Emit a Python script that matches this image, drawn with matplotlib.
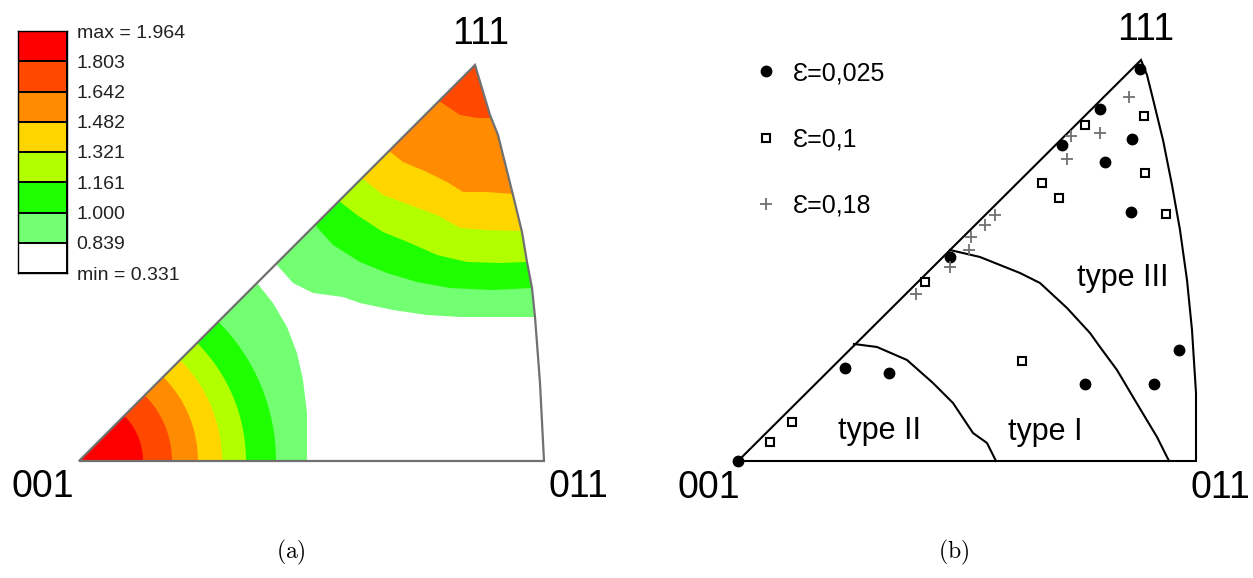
import matplotlib
matplotlib.use('Agg')
import matplotlib.pyplot as plt
from matplotlib.patches import Polygon, Wedge

plt.rcParams['font.family'] = ['Liberation Sans', 'DejaVu Sans']
plt.rcParams['mathtext.fontset'] = 'cm'

# ---- data (a): contour levels of the inverse pole figure ----
levels = ['max = 1.964', '1.803', '1.642', '1.482', '1.321', '1.161', '1.000', '0.839', 'min = 0.331']
level_colors = ['#FF0000', '#FF4800', '#FF8C00', '#FFD500', '#B2FF00', '#1EFF00', '#72FF72', '#FFFFFF']

# triangle (a) in reference pixel units, 001 at the origin
arc_a = [(465, 0), (461, 78), (456, 144), (453, 173), (448, 199), (443, 229),
         (434, 266), (419, 326), (411, 346), (396, 396)]
# rings around 001 (outer radius of each band)
ring_radii = [197, 167, 143, 119, 93, 64]
ring_colors = ['#1EFF00', '#B2FF00', '#FFD500', '#FF8C00', '#FF4800', '#FF0000']
ring_outer = [(0, 0), (228, 0), (228, 48), (224, 81), (218, 108), (208, 134), (194, 158), (178, 178)]
# band boundaries near 111 (from the 001-111 edge to the arc)
b6 = [(197, 197), (214, 178), (234, 168), (264, 164), (281, 158), (314, 151), (348, 146), (381, 144), (414, 144), (456, 144)]
b5 = [(236, 236), (254, 216), (281, 199), (308, 188), (338, 179), (371, 173), (414, 171), (453, 173)]
b4 = [(260, 260), (278, 246), (304, 229), (331, 218), (358, 206), (388, 199), (421, 198), (448, 199)]
b3 = [(283, 283), (304, 266), (331, 256), (358, 246), (381, 233), (408, 231), (443, 230)]
b2 = [(310, 310), (324, 299), (348, 289), (368, 279), (384, 269), (408, 269), (434, 267)]
b1 = [(360, 360), (381, 346), (398, 343), (411, 343)]
upper_bands = [b6, b5, b4, b3, b2, b1]
upper_colors = ['#72FF72', '#1EFF00', '#B2FF00', '#FFD500', '#FF8C00', '#FF4800']

# ---- data (b): measured orientations and domain boundaries ----
arc_b = [(458, 0), (458, 68), (454, 131), (449, 181), (442, 231), (434, 276),
         (425, 321), (414, 366), (409, 386), (403, 401)]
line_2_1 = [(116, 117), (139, 114), (169, 101), (195, 78), (215, 58), (235, 28), (249, 18), (258, 0)]
line_1_3 = [(212, 211), (242, 204), (262, 196), (282, 188), (302, 178), (329, 153), (352, 128),
            (362, 114), (379, 91), (395, 64), (419, 24), (431, 0)]

e025_x = [0, 402, 362, 324, 394, 367, 393, 441, 347, 416, 212, 107, 151]
e025_y = [0, 392, 352, 316, 322, 299, 249, 111, 77, 77, 204, 93, 88]
e01_x = [406, 347, 407, 304, 321, 428, 284, 187, 32, 54]
e01_y = [345, 336, 288, 278, 263, 247, 100, 179, 19, 39]
e018_x = [391, 333, 362, 329, 257, 247, 233, 231, 212, 178]
e018_y = [364, 325, 328, 302, 246, 236, 224, 211, 194, 167]


def band_polygon(boundary, arc):
    pts = list(boundary)
    pts += [p for p in arc if p[1] > boundary[-1][1]]
    return pts


fig = plt.figure(figsize=(12.53, 5.78), dpi=100)
W, H = 1253.0, 578.0

# ---------------- panel (a) ----------------
ax = fig.add_axes([0, 0, 626 / W, 1])
ax.set_xlim(-79, 547)
ax.set_ylim(-117, 461)
ax.axis('off')

tri_a = [(0, 0)] + arc_a
clip_a = Polygon(tri_a, closed=True, facecolor='white', edgecolor='none')
ax.add_patch(clip_a)

p = Polygon(ring_outer, closed=True, facecolor='#72FF72', edgecolor='none')
ax.add_patch(p)
p.set_clip_path(clip_a)
for r, c in zip(ring_radii, ring_colors):
    w = Wedge((0, 0), r, 0, 45, facecolor=c, edgecolor='none')
    ax.add_patch(w)
    w.set_clip_path(clip_a)
for b, c in zip(upper_bands, upper_colors):
    p = Polygon(band_polygon(b, arc_a), closed=True, facecolor=c, edgecolor='none')
    ax.add_patch(p)
    p.set_clip_path(clip_a)

ax.add_patch(Polygon(tri_a, closed=True, facecolor='none', edgecolor='#707070', lw=1.6))

ax.text(-36, -26, '001', fontsize=27, ha='center', va='center')
ax.text(499, -26, '011', fontsize=27, ha='center', va='center')
ax.text(402, 427, '111', fontsize=27, ha='center', va='center')
ax.text(212, -91, r'$\mathrm{(a)}$', fontsize=17, ha='center', va='center')

# colour key
cax = fig.add_axes([18 / W, (H - 273) / H, 49 / W, 242 / H])
n = len(level_colors)
for k, c in enumerate(level_colors):
    cax.bar(0.5, 1, bottom=n - 1 - k, width=1, color=c, edgecolor='black', lw=1.4)
cax.set_xlim(0, 1)
cax.set_ylim(0, n)
cax.set_xticks([])
cax.set_yticks(range(n, -1, -1))
cax.set_yticklabels(levels)
cax.yaxis.tick_right()
cax.tick_params(axis='y', length=0, pad=7, labelsize=14, labelcolor='#222222')
for s in cax.spines.values():
    s.set_linewidth(1.0)

# ---------------- panel (b) ----------------
bx = fig.add_axes([626 / W, 0, 627 / W, 1])
bx.set_xlim(-112, 515)
bx.set_ylim(-117, 461)
bx.axis('off')

tri_b = [(0, 0)] + arc_b
bx.add_patch(Polygon(tri_b, closed=True, facecolor='none', edgecolor='black', lw=1.5))
bx.plot([q[0] for q in line_2_1], [q[1] for q in line_2_1], color='black', lw=1.5)
bx.plot([q[0] for q in line_1_3], [q[1] for q in line_1_3], color='black', lw=1.5)

h1, = bx.plot(e025_x, e025_y, 'o', color='black', ms=7.5, ls='none', label='Ɛ=0,025', zorder=5)
h2, = bx.plot(e01_x, e01_y, 's', mfc='white', mec='black', mew=1.5, ms=5.2, ls='none', label='Ɛ=0,1', zorder=5)
h3, = bx.plot(e018_x, e018_y, '+', color='#707070', mew=1.3, ms=9, ls='none', label='Ɛ=0,18', zorder=5)

bx.text(141, 30, 'type II', fontsize=22, ha='center', va='center')
bx.text(307, 29, 'type I', fontsize=22, ha='center', va='center')
bx.text(385, 183, 'type III', fontsize=22, ha='center', va='center')

bx.text(-29, -27, '001', fontsize=27, ha='center', va='center')
bx.text(482, -27, '011', fontsize=27, ha='center', va='center')
bx.text(408, 431, '111', fontsize=27, ha='center', va='center')
bx.text(216, -91, r'$\mathrm{(b)}$', fontsize=17, ha='center', va='center')

bx.legend(handles=[h1, h2, h3], loc='upper left', bbox_to_anchor=(753 / W, 1 - 61 / H),
          bbox_transform=fig.transFigure, frameon=False, fontsize=18, borderpad=0,
          handlelength=1.0, handletextpad=0.6, labelspacing=1.69, borderaxespad=0)

fig.savefig('out.png', dpi=100)
